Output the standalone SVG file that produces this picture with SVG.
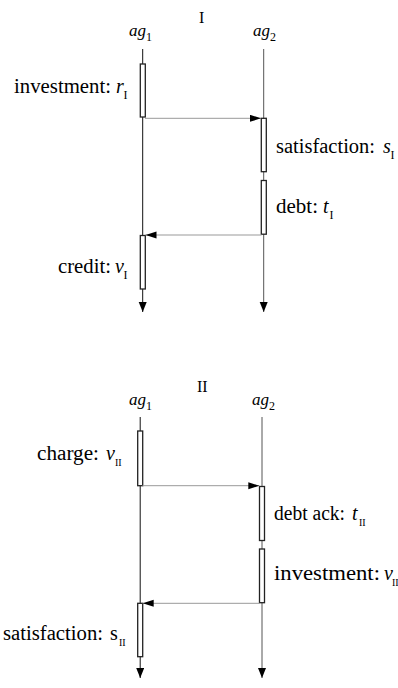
<svg xmlns="http://www.w3.org/2000/svg" width="398" height="688" viewBox="0 0 398 688" font-family="'Liberation Serif', 'DejaVu Serif', serif">
  <style>
    text { font-family: "Liberation Serif", "DejaVu Serif", serif; fill: #000; }
    .lbl { font-size: 20px; }
    .hd { font-size: 16px; }
    .ag { font-size: 17px; font-style: italic; }
    .sub { font-size: 12px; font-style: normal; }
    .sub2 { font-size: 10px; font-style: normal; }
    .it { font-style: italic; }
    .life { stroke: #111; stroke-width: 1; fill: none; }
    .life2 { stroke: #555; stroke-width: 1; fill: none; }
    .act { fill: #fff; stroke: #222; stroke-width: 1.3; }
    .msg { stroke: #999; stroke-width: 1; fill: none; }
  </style>
  <defs>
    <marker id="ahm" markerUnits="userSpaceOnUse" markerWidth="12" markerHeight="8" refX="11" refY="3.5" orient="auto">
      <path d="M0,0 L11,3.5 L0,7 z" fill="#000"/>
    </marker>
    <marker id="ahl" markerUnits="userSpaceOnUse" markerWidth="11" markerHeight="9" refX="10" refY="4" orient="auto">
      <path d="M0,0 L10,4 L0,8 z" fill="#000"/>
    </marker>
  </defs>

  <!-- Diagram I -->
  <g id="I-title"><text class="hd" x="199" y="23">I</text></g>
  <g id="I-ag1">
    <text class="ag" x="129" y="36">ag<tspan class="sub" x="146" y="41">1</tspan></text>
    <line class="life" x1="142.7" y1="49" x2="142.7" y2="312" marker-end="url(#ahl)"/>
  </g>
  <g id="I-ag2">
    <text class="ag" x="253" y="36">ag<tspan class="sub" x="270" y="41">2</tspan></text>
    <line class="life2" x1="263.7" y1="49" x2="263.7" y2="312" marker-end="url(#ahl)"/>
  </g>
  <g id="I-investment">
    <rect class="act" x="140.3" y="64" width="5" height="53"/>
    <text class="lbl" x="14" y="93" textLength="97" lengthAdjust="spacingAndGlyphs">investment:</text>
    <text class="lbl" x="116" y="93"><tspan class="it">r</tspan><tspan class="sub" x="123.5" y="99">I</tspan></text>
  </g>
  <g id="I-satisfaction">
    <rect class="act" x="261.3" y="118.3" width="5" height="53.4"/>
    <text class="lbl" x="276" y="153" textLength="99" lengthAdjust="spacingAndGlyphs">satisfaction:</text>
    <text class="lbl" x="383" y="153"><tspan class="it">s</tspan><tspan class="sub" x="390.5" y="159">I</tspan></text>
  </g>
  <g id="I-debt">
    <rect class="act" x="261.3" y="180.5" width="5" height="53.7"/>
    <text class="lbl" x="276" y="213" textLength="42" lengthAdjust="spacingAndGlyphs">debt:</text>
    <text class="lbl" x="323" y="213"><tspan class="it">t</tspan><tspan class="sub" x="329.5" y="219">I</tspan></text>
  </g>
  <g id="I-credit">
    <rect class="act" x="140.3" y="235.5" width="5" height="53.5"/>
    <text class="lbl" x="58" y="273" textLength="53" lengthAdjust="spacingAndGlyphs">credit:</text>
    <text class="lbl" x="115" y="273"><tspan class="it">v</tspan><tspan class="sub" x="123.5" y="279">I</tspan></text>
  </g>

  <!-- Diagram II -->
  <g id="II-title"><text class="hd" x="197" y="392">II</text></g>
  <g id="II-ag1">
    <text class="ag" x="129" y="405">ag<tspan class="sub" x="146" y="410">1</tspan></text>
    <line class="life" x1="140.2" y1="417" x2="140.2" y2="678" marker-end="url(#ahl)"/>
  </g>
  <g id="II-ag2">
    <text class="ag" x="252" y="405">ag<tspan class="sub" x="269" y="410">2</tspan></text>
    <line class="life2" x1="262" y1="417" x2="262" y2="678" marker-end="url(#ahl)"/>
  </g>
  <g id="II-charge">
    <rect class="act" x="137.7" y="431" width="5" height="54.7"/>
    <text class="lbl" x="37" y="460" textLength="62" lengthAdjust="spacingAndGlyphs">charge:</text>
    <text class="lbl" x="106" y="460"><tspan class="it">v</tspan><tspan class="sub2" x="115" y="466">II</tspan></text>
  </g>
  <g id="II-debtack">
    <rect class="act" x="259.5" y="486.5" width="5" height="54"/>
    <text class="lbl" x="274" y="520" textLength="71" lengthAdjust="spacingAndGlyphs">debt ack:</text>
    <text class="lbl" x="352" y="520"><tspan class="it">t</tspan><tspan class="sub2" x="359" y="526">II</tspan></text>
  </g>
  <g id="II-investment">
    <rect class="act" x="259.5" y="549" width="5" height="53.7"/>
    <text class="lbl" x="274" y="580" textLength="106" lengthAdjust="spacingAndGlyphs">investment:</text>
    <text class="lbl" x="384" y="580"><tspan class="it">v</tspan><tspan class="sub2" x="392" y="586">II</tspan></text>
  </g>
  <g id="II-satisfaction">
    <rect class="act" x="137.7" y="603.3" width="5" height="53.4"/>
    <text class="lbl" x="3" y="640" textLength="100" lengthAdjust="spacingAndGlyphs">satisfaction:</text>
    <text class="lbl" x="110" y="640">s<tspan class="sub2" x="119" y="646">II</tspan></text>
  </g>

  <g id="connectors">
    <line class="msg" x1="145" y1="118.3" x2="261" y2="118.3" marker-end="url(#ahm)"/>
    <line class="msg" x1="261.5" y1="235" x2="145.5" y2="235" marker-end="url(#ahm)"/>
    <line class="msg" x1="142.5" y1="485.7" x2="259.3" y2="485.7" marker-end="url(#ahm)"/>
    <line class="msg" x1="259.5" y1="603.3" x2="142.7" y2="603.3" marker-end="url(#ahm)"/>
  </g>
</svg>
